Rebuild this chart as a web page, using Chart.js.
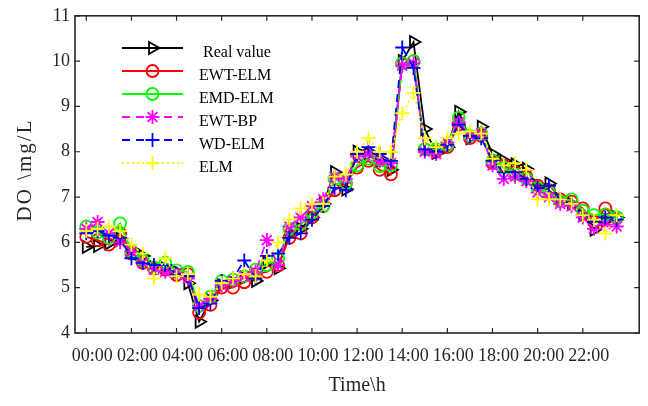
<!DOCTYPE html>
<html>
<head>
<meta charset="utf-8">
<script src="https://cdn.jsdelivr.net/npm/chart.js@4/dist/chart.umd.min.js"></script>
<style>
  html, body { margin: 0; padding: 0; background: #fff; }
  #wrap { width: 648px; height: 406px; }
</style>
</head>
<body>
<div id="wrap"><canvas id="chart"></canvas></div>
<script>
// sampling times (hours), one point every 30 min
const hours = [0, 0.5, 1, 1.5, 2, 2.5, 3, 3.5, 4, 4.5, 5, 5.5, 6, 6.5, 7, 7.5,
  8, 8.5, 9, 9.5, 10, 10.5, 11, 11.5, 12, 12.5, 13, 13.5, 14, 14.5, 15, 15.5,
  16, 16.5, 17, 17.5, 18, 18.5, 19, 19.5, 20, 20.5, 21, 21.5, 22, 22.5, 23, 23.5]

const tickHours = [0, 2, 4, 6, 8, 10, 12, 14, 16, 18, 20, 22]
const tickLabels = ['00:00', '02:00', '04:00', '06:00', '08:00', '10:00',
  '12:00', '14:00', '16:00', '18:00', '20:00', '22:00']

const realValue = [5.90, 5.92, 5.98, 6.08, 5.85, 5.70, 5.45, 5.42, 5.35, 5.10,
  4.25, 4.72, 5.05, 5.12, 5.22, 5.15, 5.55, 5.43, 6.20, 6.30, 6.55, 6.85, 7.55, 7.17,
  8.00, 7.95, 7.80, 7.60, 10.00, 10.42, 8.50, 7.98, 8.10, 8.88, 8.30, 8.55,
  7.95, 7.80, 7.72, 7.62, 7.25, 7.30, 6.95, 6.85, 6.60, 6.28, 6.48, 6.55]
const ewtElm = [6.12, 6.05, 5.95, 6.20, 5.75, 5.55, 5.42, 5.40, 5.28, 5.30,
  4.45, 4.62, 5.00, 5.00, 5.12, 5.30, 5.35, 5.50, 6.10, 6.20, 6.55, 6.80, 7.15, 7.30,
  7.65, 7.80, 7.60, 7.50, 9.95, 10.00, 8.05, 8.00, 8.10, 8.60, 8.30, 8.35,
  7.75, 7.70, 7.55, 7.45, 7.25, 7.15, 6.95, 6.90, 6.75, 6.45, 6.75, 6.55]
const emdElm = [6.35, 6.22, 6.10, 6.42, 5.80, 5.60, 5.45, 5.55, 5.38, 5.35,
  4.60, 4.80, 5.15, 5.18, 5.25, 5.40, 5.50, 5.65, 6.30, 6.40, 6.65, 6.80, 7.40, 7.30,
  7.70, 7.85, 7.68, 7.70, 9.95, 10.00, 8.05, 8.05, 8.15, 8.75, 8.35, 8.40,
  7.80, 7.65, 7.50, 7.40, 7.20, 7.10, 6.90, 6.95, 6.70, 6.60, 6.62, 6.55]
const ewtBp = [6.30, 6.45, 6.20, 6.00, 5.80, 5.55, 5.40, 5.35, 5.32, 5.20,
  4.60, 4.75, 5.05, 5.15, 5.25, 5.35, 6.05, 5.50, 6.35, 6.55, 6.80, 6.95, 7.45, 7.40,
  7.90, 7.95, 7.80, 7.75, 9.90, 9.95, 8.00, 7.95, 8.20, 8.65, 8.35, 8.40,
  7.70, 7.40, 7.45, 7.35, 7.10, 7.00, 6.85, 6.80, 6.55, 6.30, 6.40, 6.35]
const wdElm = [6.20, 6.25, 6.15, 6.10, 5.65, 5.55, 5.50, 5.50, 5.30, 5.25,
  4.55, 4.65, 5.15, 5.20, 5.60, 5.20, 5.70, 5.75, 6.10, 6.20, 6.50, 6.80, 7.20, 7.15,
  7.95, 8.10, 7.95, 7.80, 10.30, 9.85, 8.05, 8.00, 8.15, 8.60, 8.35, 8.30,
  7.80, 7.55, 7.55, 7.40, 7.20, 7.25, 6.95, 6.85, 6.60, 6.45, 6.55, 6.50]
const elm = [6.25, 6.30, 6.35, 6.25, 5.95, 5.75, 5.20, 5.65, 5.25, 5.30,
  4.85, 4.80, 5.10, 5.20, 5.30, 5.25, 5.60, 6.00, 6.50, 6.75, 6.85, 6.85, 7.45, 7.50,
  8.00, 8.30, 8.00, 8.00, 8.85, 9.30, 8.30, 8.10, 8.30, 8.40, 8.45, 8.40,
  7.85, 7.70, 7.75, 7.60, 6.95, 6.95, 6.95, 6.85, 6.60, 6.50, 6.20, 6.60]

const FONT = '"Liberation Serif", "Times New Roman", serif'
const AXIS_COLOR = '#262626'

const series = [
  { label: 'Real value', data: realValue, color: '#000000', pointStyle: 'triangle', rotation: 90, radius: 7, dash: [] },
  { label: 'EWT-ELM', data: ewtElm, color: '#ff0000', pointStyle: 'circle', rotation: 0, radius: 6, dash: [] },
  { label: 'EMD-ELM', data: emdElm, color: '#00ff00', pointStyle: 'circle', rotation: 0, radius: 6, dash: [] },
  { label: 'EWT-BP', data: ewtBp, color: '#ff00ff', pointStyle: 'star', rotation: 0, radius: 7, dash: [8, 6] },
  { label: 'WD-ELM', data: wdElm, color: '#0000ff', pointStyle: 'cross', rotation: 0, radius: 7, dash: [8, 6] },
  { label: 'ELM', data: elm, color: '#ffff00', pointStyle: 'cross', rotation: 0, radius: 7, dash: [2, 3] }
]

const datasets = series.map((s, i) => ({
  label: s.label,
  data: s.data.map((v, j) => ({ x: hours[j], y: v })),
  borderColor: s.color,
  borderWidth: 1.8,
  borderDash: s.dash,
  pointStyle: s.pointStyle,
  pointRotation: s.rotation,
  pointRadius: s.radius,
  pointBorderColor: s.color,
  pointBackgroundColor: 'rgba(0,0,0,0)',
  pointBorderWidth: 1.8,
  tension: 0,
  // later series are drawn on top, like the original figure
  order: series.length - i
}))

// box around the plot with inward ticks on all four sides, plus the y title
const boxPlugin = {
  id: 'box',
  afterDatasetsDraw(chart) {
    const { ctx, chartArea: a, scales } = chart
    ctx.save()
    ctx.strokeStyle = AXIS_COLOR
    ctx.lineWidth = 1.6
    ctx.setLineDash([])
    ctx.strokeRect(a.left, a.top, a.right - a.left, a.bottom - a.top)
    ctx.lineWidth = 1.2
    ctx.beginPath()
    tickHours.forEach(h => {
      const x = scales.x.getPixelForValue(h)
      ctx.moveTo(x, a.bottom); ctx.lineTo(x, a.bottom - 5)
      ctx.moveTo(x, a.top); ctx.lineTo(x, a.top + 5)
    })
    for (let v = 4; v <= 11; v++) {
      const y = scales.y.getPixelForValue(v)
      ctx.moveTo(a.left, y); ctx.lineTo(a.left + 5, y)
      ctx.moveTo(a.right, y); ctx.lineTo(a.right - 5, y)
    }
    ctx.stroke()

    // y axis title, a little letter-spaced
    ctx.translate(25, 170)
    ctx.rotate(-Math.PI / 2)
    ctx.fillStyle = AXIS_COLOR
    ctx.font = '21px ' + FONT
    ctx.letterSpacing = '2px'
    ctx.textAlign = 'center'
    ctx.textBaseline = 'middle'
    ctx.fillText('DO \\mg/L', 0, 0)
    ctx.restore()
  }
}

// MATLAB-style legend: line sample with marker in the middle, no frame
const legendPlugin = {
  id: 'matLegend',
  afterDatasetsDraw(chart) {
    const ctx = chart.ctx
    const x0 = 122, x1 = 183, textX = 199
    const rows = [48, 71, 94, 117, 140, 163]
    ctx.save()
    series.forEach((s, i) => {
      const y = rows[i]
      ctx.strokeStyle = s.color
      ctx.lineWidth = 1.8
      ctx.setLineDash(s.dash)
      ctx.beginPath()
      ctx.moveTo(x0, y); ctx.lineTo(x1, y)
      ctx.stroke()
      ctx.setLineDash([])
      ctx.fillStyle = 'rgba(0,0,0,0)'
      Chart.helpers.drawPoint(ctx, {
        pointStyle: s.pointStyle, rotation: s.rotation, radius: s.radius, borderWidth: 1.8
      }, (x0 + x1) / 2, y)
      ctx.fillStyle = '#000'
      ctx.font = '16px ' + FONT
      ctx.textBaseline = 'middle'
      ctx.fillText(s.label, i === 0 ? textX + 4 : textX, y + 5)
    })
    ctx.restore()
  }
}

new Chart(document.getElementById('chart'), {
  type: 'line',
  data: { datasets },
  plugins: [boxPlugin, legendPlugin],
  options: {
    responsive: true,
    maintainAspectRatio: false,
    animation: false,
    layout: { padding: { top: 11, right: 7, left: 0, bottom: 0 } },
    plugins: {
      legend: { display: false },
      tooltip: { enabled: false }
    },
    scales: {
      x: {
        type: 'linear',
        min: -0.5,
        max: 24.5,
        afterBuildTicks: (scale) => { scale.ticks = tickHours.map(v => ({ value: v })) },
        afterFit: (scale) => { scale.height = 73 },
        grid: { display: false, drawTicks: false },
        border: { display: false },
        ticks: {
          autoSkip: false,
          maxRotation: 0,
          padding: 12,
          labelOffset: 6,
          color: AXIS_COLOR,
          font: { family: FONT, size: 18 },
          callback: (v) => tickLabels[tickHours.indexOf(v)]
        },
        title: {
          display: true,
          text: 'Time\\h',
          color: AXIS_COLOR,
          font: { family: FONT, size: 20 },
          padding: { top: 0, bottom: 8 }
        }
      },
      y: {
        min: 4,
        max: 11,
        afterFit: (scale) => { scale.width = 75 },
        grid: { display: false, drawTicks: false },
        border: { display: false },
        ticks: {
          stepSize: 1,
          padding: 5,
          color: AXIS_COLOR,
          font: { family: FONT, size: 18 }
        }
      }
    }
  }
})
</script>
</body>
</html>
